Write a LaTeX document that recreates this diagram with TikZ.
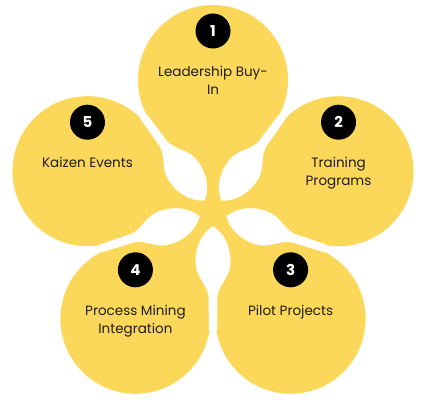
\documentclass[tikz,border=0pt]{standalone}
\usepackage{fontspec}
\setmainfont{Poppins}
\usepackage{xcolor}
\definecolor{petal}{RGB}{251,216,90}
\definecolor{ink}{RGB}{30,28,22}

\begin{document}
\begin{tikzpicture}[x=1pt,y=1pt,blob/.style={circle,fill=petal,minimum size=150pt,inner sep=0pt},
  badge/.style={circle,fill=black,minimum size=35pt,inner sep=0pt,text=white,font=\bfseries\fontsize{15}{15}\selectfont},
  step text/.style={align=center,text=ink,inner sep=0pt,anchor=north,font=\fontsize{13.5}{18}\selectfont}]

            \useasboundingbox (-213,-203) rectangle (214,212);

            % centre where the stems meet
            \fill[petal] (0,0) circle (100);

            \node[blob] (1) at (90:132) {};
            \node[blob] (2) at (18:132) {};
            \node[blob] (3) at (-54:132) {};
            \node[blob] (4) at (-126:132) {};
            \node[blob] (5) at (162:132) {};

            % white gaps between the stems
            \foreach \a in {54,-18,-90,-162,126}
              \fill[white,rotate=\a] (14,0) .. controls (22,12) and (35,17.5) .. (50,17.5)
                .. controls (65,17.5) and (72,6) .. (84,4.5) -- (118,4) -- (118,-4) -- (84,-4.5)
                .. controls (72,-6) and (65,-17.5) .. (50,-17.5) .. controls (35,-17.5) and (22,-12) .. (14,0) -- cycle;

            \node[badge] (b1) at ([yshift=49pt]1.center) {1};
            \node[badge] (b2) at ([yshift=49pt]2.center) {2};
            \node[badge] (b3) at ([yshift=49pt]3.center) {3};
            \node[badge] (b4) at ([yshift=49pt]4.center) {4};
            \node[badge] (b5) at ([yshift=49pt]5.center) {5};

            \node[step text] (t1) at ([yshift=14pt]1.center) {Leadership Buy-\\In};
            \node[step text] (t2) at ([yshift=14pt]2.center) {Training\\Programs};
            \node[step text] (t3) at ([yshift=14pt]3.center) {Pilot Projects};
            \node[step text] (t4) at ([yshift=14pt]4.center) {Process Mining\\Integration};
            \node[step text] (t5) at ([yshift=14pt]5.center) {Kaizen Events};

            ;
        \end{tikzpicture}
\end{document}
